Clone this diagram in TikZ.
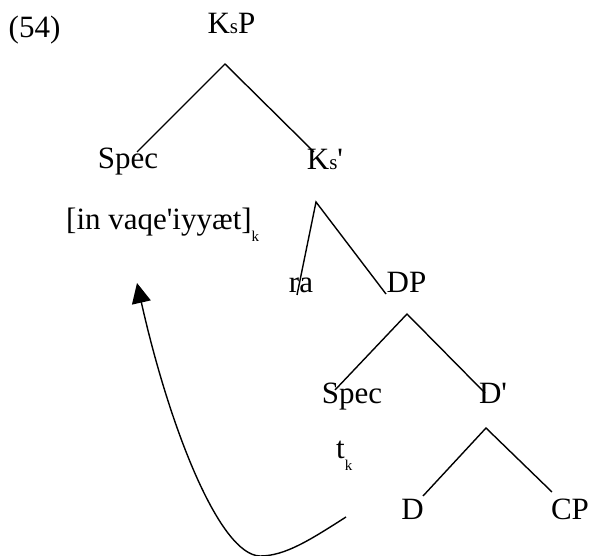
\documentclass[tikz,border=0pt]{standalone}
\usepackage{fontspec}
\setmainfont{Liberation Serif}
\usetikzlibrary{arrows.meta}
\newcommand{\subk}{\raisebox{-12pt}{\fontsize{15}{15}\selectfont k}}
\newcommand{\smalls}{{\fontsize{21}{21}\selectfont s}}
\tikzset{
  lbl/.style={inner sep=0pt, anchor=base, font=\fontsize{31}{35}\selectfont},
  branch/.style={line width=1.4pt},
  move/.style={line width=1.4pt, -{Triangle[length=20pt,width=19pt]}}
}
\begin{document}
\begin{tikzpicture}[x=1pt,y=-1pt]
\useasboundingbox (0,0) rectangle (592,556);
% labels
\node[lbl, anchor=base west] (ex) at (8.5,38) {(54)};
\node[lbl] (ksp) at (231.5,34) {K\smalls P};
\node[lbl] (spec1) at (128,169) {Spec};
\node[lbl] (ks) at (325,170) {K\smalls\textquotesingle};
\node[lbl, anchor=base west] (phrase) at (66,230) {[in vaqe\textquotesingle iyyæt]\subk};
\node[lbl] (ra) at (301,293) {ra};
\node[lbl] (dp) at (406.5,293) {DP};
\node[lbl] (spec2) at (352,403) {Spec};
\node[lbl] (dbar) at (493,403) {D\textquotesingle};
\node[lbl, anchor=base west] (tk) at (336,458) {t\subk};
\node[lbl] (d) at (412.5,519) {D};
\node[lbl] (cp) at (570,519) {CP};
% branch points
\coordinate (a1) at (225,64);
\coordinate (a1l) at (137,152);
\coordinate (a1r) at (314,152);
\coordinate (a2) at (316,202);
\coordinate (a2l) at (297,295);
\coordinate (a2r) at (386,294);
\coordinate (a3) at (407,314);
\coordinate (a3l) at (335,390);
\coordinate (a3r) at (485,393);
\coordinate (a4) at (486,428);
\coordinate (a4l) at (423,496);
\coordinate (a4r) at (552,492);
\draw[branch] (a1l) -- (a1) -- (a1r);
\draw[branch] (a2l) -- (a2) -- (a2r);
\draw[branch] (a3l) -- (a3) -- (a3r);
\draw[branch] (a4l) -- (a4) -- (a4r);
% movement arrow
\coordinate (mvs) at (346,517);
\coordinate (mvb) at (260,556);
\coordinate (mve) at (137,283);
\draw[move] (mvs) .. controls (310,540) and (285,556) .. (mvb)
  .. controls (220,555) and (170,430) .. (mve);
\end{tikzpicture}
\end{document}
